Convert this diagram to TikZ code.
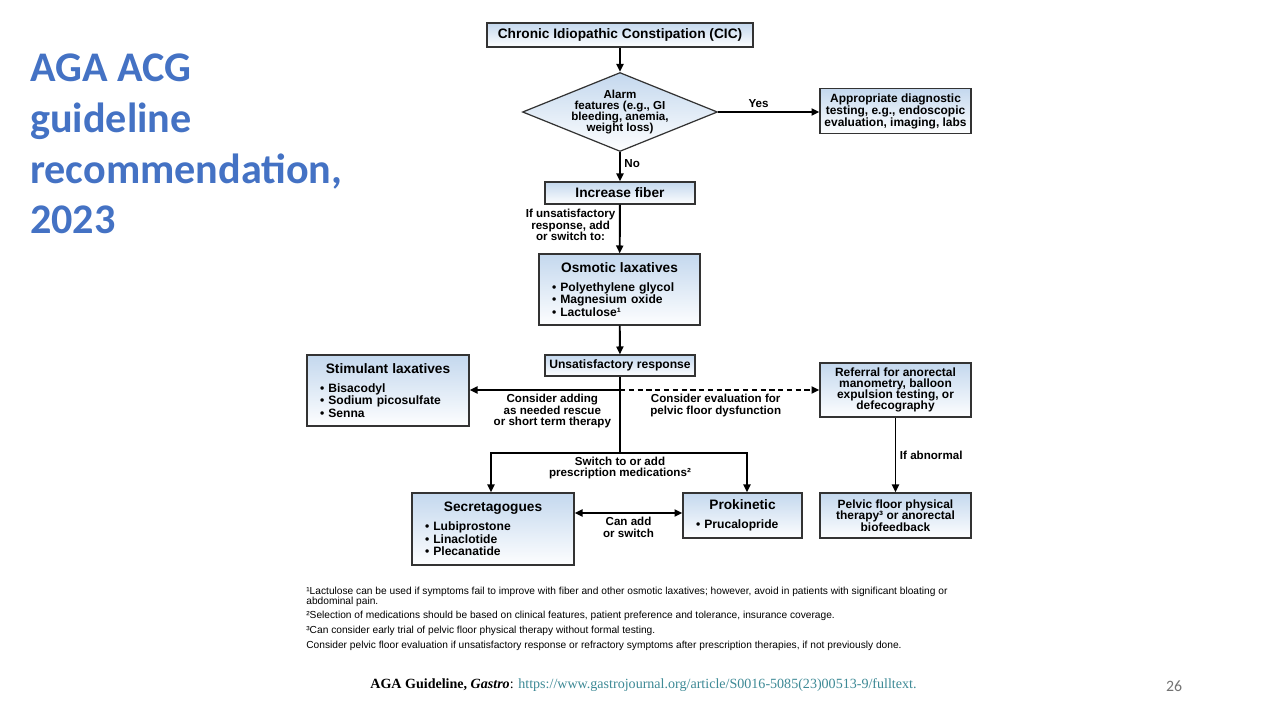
\documentclass[tikz,border=0pt]{standalone}
\usepackage{fontspec}
\setmainfont{Liberation Sans}
\newfontfamily\slidefont{Carlito}
\newfontfamily\citefont{Liberation Serif}
\usetikzlibrary{arrows.meta,shapes.geometric}
\definecolor{slideblue}{RGB}{68,114,196}
\definecolor{boxtop}{RGB}{196,216,238}
\definecolor{linkteal}{RGB}{62,138,150}
\newcommand{\boxtitle}{\fontsize{7.8}{9}\selectfont\bfseries}
\newcommand{\boxtext}{\fontsize{6.9}{7.1}\selectfont\bfseries}
\newcommand{\flowlabel}{\fontsize{6.6}{6.5}\selectfont\bfseries}
\newcommand{\notefont}{\fontsize{5.8}{5.7}\selectfont}
\newcommand{\tightlines}{\lineskiplimit=-10pt\lineskip=0pt}
\begin{document}
\begin{tikzpicture}[x=0.02cm, y=-0.02cm,
    flowbox/.style={draw=black!80, line width=0.7pt, top color=boxtop, bottom color=white!97!boxtop, inner sep=0pt, align=center},
    listbox/.style={flowbox, align=left, inner xsep=0.26cm, inner ysep=0pt, font=\boxtext},
    flow/.style={line width=1.1pt, -{Triangle[length=4.5pt,width=4pt]}},
    bothflow/.style={line width=1.1pt, {Triangle[length=4.5pt,width=4pt]}-{Triangle[length=4.5pt,width=4pt]}},
    lbl/.style={font=\flowlabel, align=center, inner sep=2pt}]
  \fill[white] (0,0) rectangle (1280,720);
  \useasboundingbox (0,0) rectangle (1280,720);
  % slide title
  \node[anchor=west, align=left, text=slideblue, font=\slidefont\fontsize{24}{28.9}\selectfont\bfseries] (title) at (24,144)
    {AGA ACG\\guideline\\recommendation,\\2023};
  % flowchart boxes
  \node[flowbox, font=\boxtitle, minimum width=5.32cm, minimum height=0.48cm] (cic) at (620,35)
    {Chronic Idiopathic Constipation (CIC)};
  \node[flowbox, shape=diamond, shape aspect=2.45, inner sep=-2pt, font=\flowlabel\fontsize{6.6}{6.4}\selectfont, minimum width=3.9cm, minimum height=1.58cm] (alarm) at (620,112)
    {Alarm\\features (e.g., GI\\bleeding, anemia,\\weight loss)};
  \node[flowbox, font=\boxtext\fontsize{6.8}{6.8}\selectfont, minimum width=3.02cm, minimum height=0.9cm] (diag) at (895.5,111)
    {Appropriate diagnostic\\testing, e.g., endoscopic\\evaluation, imaging, labs};
  \node[flowbox, font=\boxtitle, minimum width=3.0cm, minimum height=0.44cm] (fiber) at (620,193) {Increase fiber};
  \node[listbox, text width=2.7cm, minimum height=1.42cm] (osm) at (619.5,289.5)
    {\makebox[\hsize]{\boxtitle Osmotic laxatives}\\[3.5pt]
     \textbullet\ Polyethylene glycol\\ \textbullet\ Magnesium oxide\\ \textbullet\ Lactulose¹};
  \node[flowbox, font=\boxtext, minimum width=3.0cm, minimum height=0.42cm] (unsat) at (620,365.5) {Unsatisfactory response};
  \node[listbox, text width=2.72cm, minimum height=1.42cm] (stim) at (388,390.5)
    {\makebox[\hsize]{\boxtitle Stimulant laxatives}\\[3.5pt]
     \textbullet\ Bisacodyl\\ \textbullet\ Sodium picosulfate\\ \textbullet\ Senna};
  \node[flowbox, font=\boxtext\fontsize{6.8}{6.4}\selectfont\tightlines, minimum width=3.02cm, minimum height=1.08cm] (refer) at (895.5,390)
    {Referral for anorectal\\manometry, balloon\\expulsion testing, or\\defecography};
  \node[listbox, text width=2.72cm, minimum height=1.44cm] (secr) at (493,529)
    {\makebox[\hsize]{\boxtitle Secretagogues}\\[3.5pt]
     \textbullet\ Lubiprostone\\ \textbullet\ Linaclotide\\ \textbullet\ Plecanatide};
  \node[listbox, text width=1.86cm, minimum height=0.9cm] (prok) at (742.5,515.5)
    {\makebox[\hsize]{\boxtitle Prokinetic}\\[3.5pt]
     \textbullet\ Prucalopride};
  \node[flowbox, font=\boxtext\fontsize{6.8}{6.4}\selectfont\tightlines, minimum width=3.02cm, minimum height=0.9cm] (pelvic) at (895.5,515.5)
    {Pelvic floor physical\\therapy³ or anorectal\\biofeedback};
  % connectors
  \coordinate (hub) at (620,390);
  \coordinate (split) at (620,453);
  \draw[flow] (cic) -- (alarm);
  \draw[flow] (alarm.east) -- node[lbl, above, pos=.4] {Yes} (alarm.east -| diag.west);
  \draw[flow] (alarm) -- node[lbl, right, pos=.4] {No} (fiber);
  \draw[flow] (fiber) -- node[lbl, left, pos=.42] {If unsatisfactory\\response, add\\or switch to:} (osm);
  \draw[flow] (osm) -- (unsat);
  \draw[line width=1.1pt] (unsat) -- (split);
  \draw[flow] (hub) -- node[lbl, below, pos=.45] {Consider adding\\as needed rescue\\or short term therapy} (hub -| stim.east);
  \draw[flow, dash pattern=on 3pt off 2pt] (hub) -- node[lbl, below, pos=.48] {Consider evaluation for\\pelvic floor dysfunction} (hub -| refer.west);
  \draw[flow] (split) -| ([xshift=-0.04cm]secr.north);
  \draw[flow] (split) -| ([xshift=0.09cm]prok.north);
  \node[lbl, below] (switchlbl) at (split) {Switch to or add\\prescription medications²};
  \draw[bothflow] (prok.west |- 0,513) coordinate (canb) -- node[lbl, below] {Can add\\or switch} (secr.east |- canb);
  \draw[flow] (refer) -- node[lbl, right] {If abnormal} (pelvic);
  % footnotes
  \node[anchor=west, align=left, font=\notefont, inner sep=0pt] (note1) at (306,597)
    {¹Lactulose can be used if symptoms fail to improve with fiber and other osmotic laxatives; however, avoid in patients with significant bloating or\\abdominal pain.};
  \node[anchor=west, font=\notefont, inner sep=0pt] (note2) at (306,616)
    {²Selection of medications should be based on clinical features, patient preference and tolerance, insurance coverage.};
  \node[anchor=west, font=\notefont, inner sep=0pt] (note3) at (306,631)
    {³Can consider early trial of pelvic floor physical therapy without formal testing.};
  \node[anchor=west, font=\notefont, inner sep=0pt] (note4) at (306,646)
    {Consider pelvic floor evaluation if unsatisfactory response or refractory symptoms after prescription therapies, if not previously done.};
  % source line and slide number
  \node[anchor=west, font=\citefont\fontsize{8}{9}\selectfont, inner sep=0pt] (cite) at (370,685)
    {\textbf{AGA Guideline, \textit{Gastro}}: \textcolor{linkteal}{https://www.gastrojournal.org/article/S0016-5085(23)00513-9/fulltext.}};
  \node[font=\slidefont\fontsize{9}{10}\selectfont, text=black!55] (pagenum) at (1174,686) {26};
\end{tikzpicture}
\end{document}
